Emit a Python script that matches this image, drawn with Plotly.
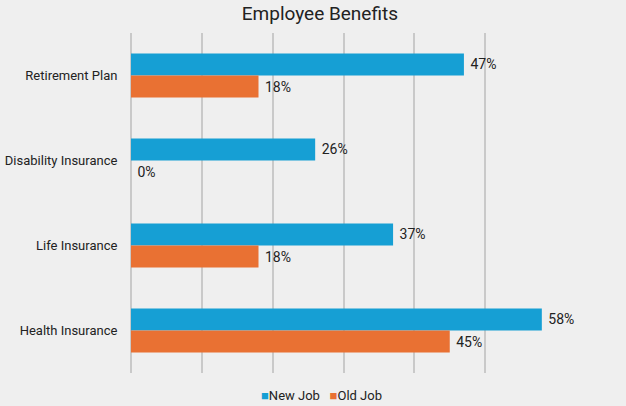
import plotly.graph_objects as go

categories = ["Retirement Plan", "Disability Insurance", "Life Insurance", "Health Insurance"]
new_job = [47, 26, 37, 58]
old_job = [18, 0, 18, 45]
series = [("New Job", new_job, "#169fd4"), ("Old Job", old_job, "#e97133")]

BG = "#efefef"
FONT = "Roboto"
INK = "#222222"

fig = go.Figure()
for name, vals, color in series:
    fig.add_trace(go.Bar(
        y=categories, x=vals, name=name, orientation="h",
        marker=dict(color=color, line=dict(width=0)),
        text=[f" {v}%" for v in vals], textposition="outside",
        textfont=dict(family=FONT, size=14, color=INK),
        cliponaxis=False, showlegend=False,
    ))

# compact legend row: small coloured squares followed by the series names
legend_text = "   ".join(
    f"<span style='color:{color}'>■</span>{name}" for name, _, color in series
)
fig.add_annotation(
    text=legend_text, xref="paper", yref="paper",
    x=(321 - 131) / (556 - 131), y=-(395 - 373) / (373 - 33),
    xanchor="center", yanchor="middle", showarrow=False,
    font=dict(family=FONT, size=13, color=INK),
)

fig.update_layout(
    width=626, height=406,
    paper_bgcolor=BG, plot_bgcolor=BG,
    margin=dict(l=131, r=70, t=33, b=33, autoexpand=False),
    barmode="group", bargap=0.48, bargroupgap=0,
    title=dict(text="Employee Benefits", x=0.511, xanchor="center",
               y=0.967, yanchor="middle",
               font=dict(family=FONT, size=19, color=INK)),
    font=dict(family=FONT, size=13, color=INK),
    xaxis=dict(range=[0, 60], dtick=10, showticklabels=False, showgrid=True,
               gridcolor="#c9c9c9", gridwidth=1.5, zeroline=True,
               zerolinecolor="#c9c9c9", zerolinewidth=1.5,
               automargin=False, fixedrange=True),
    yaxis=dict(autorange="reversed", showgrid=False, ticks="outside", ticklen=10,
               tickcolor="rgba(0,0,0,0)", automargin=False,
               tickfont=dict(family=FONT, size=13, color=INK)),
    showlegend=False,
)

fig.write_html("out.html")
